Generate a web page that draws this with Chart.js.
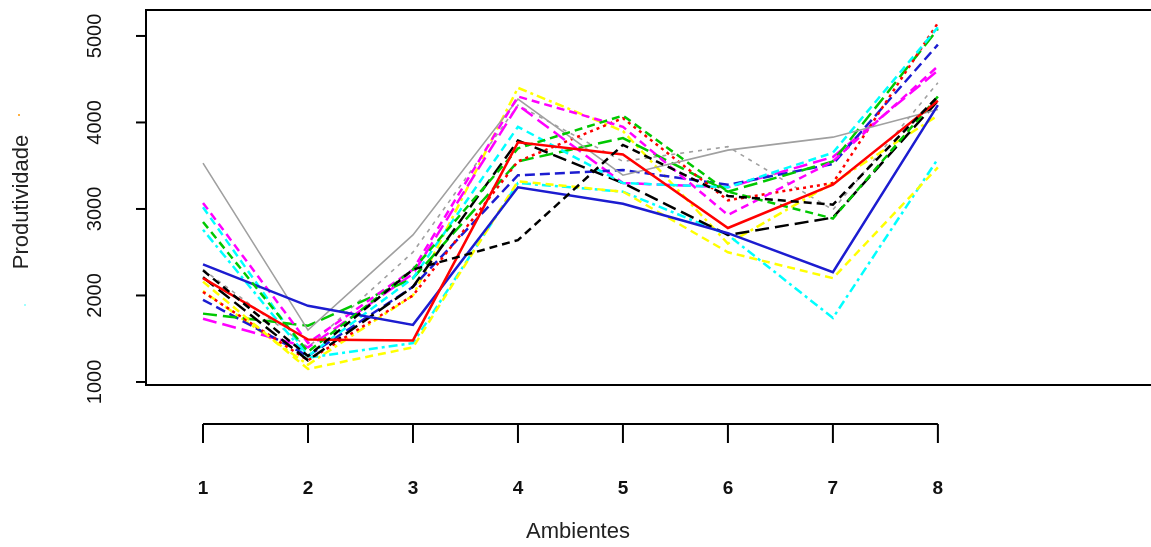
<!DOCTYPE html>
<html>
<head>
<meta charset="utf-8">
<script src="https://cdn.jsdelivr.net/npm/chart.js@4"></script>
<style>
  html, body { margin: 0; padding: 0; background: #fff; }
  #wrap { width: 1151px; height: 547px; }
</style>
</head>
<body>
<div id="wrap"><canvas id="myChart" width="1151" height="547"></canvas></div>
<script>
const ambientes = [1, 2, 3, 4, 5, 6, 7, 8];
const yTicks = [1000, 2000, 3000, 4000, 5000];

// one array per genotype
const g1  = [2290, 1300, 2300, 2640, 3740, 3150, 3050, 4300];
const g2  = [2200, 1490, 1480, 3770, 3630, 2780, 3280, 4250];
const g3  = [2850, 1350, 2300, 3700, 4080, 3200, 2890, 4300];
const g4  = [2360, 1880, 1660, 3250, 3060, 2720, 2270, 4200];
const g5  = [3020, 1300, 2200, 3950, 3300, 3250, 3650, 5100];
const g6  = [3070, 1450, 2300, 4300, 3950, 2930, 3550, 4650];
const g7  = [2160, 1150, 1400, 3320, 3200, 2500, 2200, 3480];
const g8  = [3530, 1600, 2700, 4270, 3390, 3680, 3830, 4150];
const g9  = [2210, 1250, 2100, 3790, 3300, 2700, 2900, 4250];
const g10 = [2040, 1250, 2000, 3550, 4050, 3100, 3300, 5150];
const g11 = [1790, 1650, 2200, 3550, 3820, 3200, 3550, 5080];
const g12 = [1950, 1300, 2100, 3390, 3450, 3280, 3520, 4900];
const g13 = [2760, 1280, 1450, 3300, 3200, 2700, 1740, 3580];
const g14 = [1730, 1400, 2250, 4200, 3300, 3250, 3600, 4600];
const g15 = [2050, 1200, 2000, 4400, 3900, 2600, 3300, 4080];
const g16 = [2300, 1400, 2500, 4200, 3550, 3720, 2990, 4460];

const series = [g1, g2, g3, g4, g5, g6, g7, g8, g9, g10, g11, g12, g13, g14, g15, g16];
const colors = ['#000000', '#ff0000', '#00c800', '#1c1cd0', '#00ffff', '#ff00ff', '#ffff00', '#a0a0a0'];
const dashes = [[8, 5], [], [8, 5], [], [8, 5], [8, 5], [8, 5], [],
                [14, 6], [3, 4], [14, 6], [10, 5], [3, 4, 9, 4], [14, 6], [3, 4, 9, 4], [4, 5]];

const datasets = series.map((vals, i) => ({
  data: ambientes.map((a, j) => ({x: a, y: vals[j]})),
  borderColor: colors[i % 8],
  borderWidth: colors[i % 8] === '#a0a0a0' ? 1.6 : 2.5,
  borderDash: dashes[i],
  pointRadius: 0,
  showLine: true,
  fill: false,
  tension: 0
}));

const font = '"Liberation Sans", Arial, sans-serif';

// R style frame and axes
const rAxes = {
  id: 'rAxes',
  afterDraw(chart) {
    const ctx = chart.ctx;
    const a = chart.chartArea;
    const xs = chart.scales.x, ys = chart.scales.y;
    ctx.save();
    ctx.strokeStyle = '#000';
    ctx.lineWidth = 2;
    ctx.strokeRect(a.left, a.top, a.right - a.left + 20, a.bottom - a.top);

    // y axis ticks and rotated labels
    ctx.fillStyle = '#111';
    ctx.font = '20px ' + font;
    ctx.textAlign = 'center';
    ctx.textBaseline = 'middle';
    yTicks.forEach(t => {
      const py = ys.getPixelForValue(t);
      ctx.beginPath();
      ctx.moveTo(a.left - 10, py);
      ctx.lineTo(a.left, py);
      ctx.stroke();
      ctx.save();
      ctx.translate(95, py);
      ctx.rotate(-Math.PI / 2);
      ctx.fillText(String(t), 0, 0);
      ctx.restore();
    });

    // x axis drawn below the frame
    const x0 = xs.getPixelForValue(ambientes[0]);
    const x1 = xs.getPixelForValue(ambientes[ambientes.length - 1]);
    ctx.beginPath();
    ctx.moveTo(x0, 424);
    ctx.lineTo(x1, 424);
    ctx.stroke();
    ctx.font = 'bold 19px ' + font;
    ambientes.forEach(v => {
      const px = xs.getPixelForValue(v);
      ctx.beginPath();
      ctx.moveTo(px, 424);
      ctx.lineTo(px, 443);
      ctx.stroke();
      ctx.fillText(String(v), px, 489);
    });

    // axis titles
    ctx.font = '22px ' + font;
    ctx.fillStyle = '#222';
    ctx.fillText('Ambientes', 578, 532);
    ctx.save();
    ctx.translate(22, 202);
    ctx.rotate(-Math.PI / 2);
    ctx.fillText('Produtividade', 0, 0);
    ctx.restore();

    // tiny legend remnants
    ctx.fillStyle = '#ffb040';
    ctx.fillRect(18, 114, 2, 2);
    ctx.fillStyle = '#a0ffff';
    ctx.fillRect(24, 304, 2, 2);
    ctx.restore();
  }
};

const config = {
  type: 'scatter',
  data: { datasets },
  options: {
    responsive: false,
    animation: false,
    layout: { padding: { left: 146, top: 10, right: 0, bottom: 162 } },
    plugins: { legend: { display: false }, tooltip: { enabled: false } },
    scales: {
      x: { type: 'linear', min: 0.457, max: 10.03, display: false },
      y: { type: 'linear', min: 965, max: 5300, display: false }
    }
  },
  plugins: [rAxes]
};

var myChart = new Chart(document.getElementById('myChart'), config);
</script>
</body>
</html>
